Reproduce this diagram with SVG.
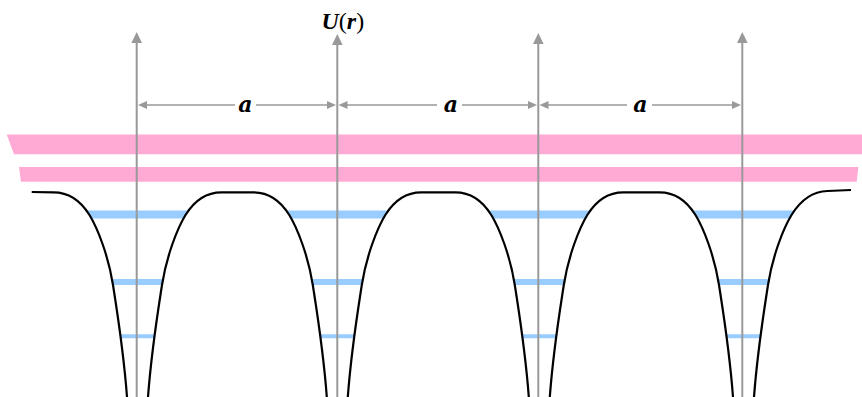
<svg xmlns="http://www.w3.org/2000/svg" width="862" height="397" viewBox="0 0 862 397">
<style>
.pink{fill:#ffaad4}
.blue{fill:#99ccff}
.axis{stroke:#999999;stroke-width:2;fill:none}
.dim{stroke:#999999;stroke-width:1.6;fill:none}
.curve{stroke:#000;stroke-width:2.2;fill:none;stroke-linejoin:round}
.lab{font-family:"DejaVu Serif",serif;font-weight:bold;font-style:italic;font-size:22px;fill:#000}
.ur{font-family:"Liberation Serif",serif;font-size:24px;fill:#000}
</style>
<defs>
<marker id="ah" markerUnits="userSpaceOnUse" markerWidth="12" markerHeight="11" refX="2" refY="5.35" orient="auto"><path d="M0,0 L11,5.35 L0,10.7 z" fill="#999999"/></marker>
<marker id="dh" markerUnits="userSpaceOnUse" markerWidth="10" markerHeight="9" refX="1.5" refY="4" orient="auto-start-reverse"><path d="M0,0 L9,4 L0,8 z" fill="#999999"/></marker>
</defs>
<rect width="862" height="397" fill="#fff"/>
<g id="bands-pink">
<polygon class="pink" points="6.7,134.5 862,134.5 862,154.3 14,154.3"/>
<polygon class="pink" points="19,167 858.3,167 856.7,181.7 21,181.7"/>
</g>
<g id="levels-blue">
<polygon class="blue" points="86.5,210.5 188.5,210.5 183.5,218.5 91.5,218.5"/>
<polygon class="blue" points="111.9,279 163.1,279 162,285 113,285"/>
<polygon class="blue" points="120.3,334.3 154.7,334.3 154.1,338.3 120.9,338.3"/>
<polygon class="blue" points="286.3,210.5 388.3,210.5 383.3,218.5 291.3,218.5"/>
<polygon class="blue" points="311.7,279 362.9,279 361.8,285 312.8,285"/>
<polygon class="blue" points="320.1,334.3 354.5,334.3 353.9,338.3 320.7,338.3"/>
<polygon class="blue" points="488.3,210.5 590.3,210.5 585.3,218.5 493.3,218.5"/>
<polygon class="blue" points="513.7,279 564.9,279 563.8,285 514.8,285"/>
<polygon class="blue" points="522.1,334.3 556.5,334.3 555.9,338.3 522.7,338.3"/>
<polygon class="blue" points="692.5,210.5 794.5,210.5 789.5,218.5 697.5,218.5"/>
<polygon class="blue" points="717.9,279 769.1,279 768,285 719,285"/>
<polygon class="blue" points="726.3,334.3 760.7,334.3 760.1,338.3 726.9,338.3"/>
</g>
<g id="axes">
<line class="axis" x1="136.7" y1="400" x2="136.7" y2="41" marker-end="url(#ah)"/>
<line class="axis" x1="337.3" y1="400" x2="337.3" y2="43" marker-end="url(#ah)"/>
<line class="axis" x1="538.3" y1="400" x2="538.3" y2="42" marker-end="url(#ah)"/>
<line class="axis" x1="742.3" y1="400" x2="742.3" y2="41" marker-end="url(#ah)"/>
</g>
<g id="potential">
<path class="curve" d="M 31.7 192 L 53.5 192.3 C 69.5 192.3, 81.5 202, 89.5 215 C 97.5 228, 108.5 256, 113 285 C 117 311, 123.5 350, 127 397 L 128 410 L 147 410 L 148 397 C 151.5 350, 158 311, 162 285 C 166.5 256, 177.5 228, 185.5 215 C 193.5 202, 205.5 192.3, 221.5 192.3 L 253.3 192.3 C 269.3 192.3, 281.3 202, 289.3 215 C 297.3 228, 308.3 256, 312.8 285 C 316.8 311, 323.3 350, 326.8 397 L 327.8 410 L 346.8 410 L 347.8 397 C 351.3 350, 357.8 311, 361.8 285 C 366.3 256, 377.3 228, 385.3 215 C 393.3 202, 405.3 192.3, 421.3 192.3 L 455.3 192.3 C 471.3 192.3, 483.3 202, 491.3 215 C 499.3 228, 510.3 256, 514.8 285 C 518.8 311, 525.3 350, 528.8 397 L 529.8 410 L 548.8 410 L 549.8 397 C 553.3 350, 559.8 311, 563.8 285 C 568.3 256, 579.3 228, 587.3 215 C 595.3 202, 607.3 192.3, 623.3 192.3 L 659.5 192.3 C 675.5 192.3, 687.5 202, 695.5 215 C 703.5 228, 714.5 256, 719 285 C 723 311, 729.5 350, 733 397 L 734 410 L 753 410 L 754 397 C 757.5 350, 764 311, 768 285 C 772.5 256, 783.5 228, 791.5 215 C 799.5 202, 811.5 191.5, 827.5 191 L 851 190"/>
</g>
<g id="dimensions">
<line class="dim" x1="145.5" y1="105" x2="235" y2="105" marker-start="url(#dh)"/>
<line class="dim" x1="256" y1="105" x2="328.5" y2="105" marker-end="url(#dh)"/>
<line class="dim" x1="346" y1="105" x2="437" y2="105" marker-start="url(#dh)"/>
<line class="dim" x1="462" y1="105" x2="529.5" y2="105" marker-end="url(#dh)"/>
<line class="dim" x1="547" y1="105" x2="627" y2="105" marker-start="url(#dh)"/>
<line class="dim" x1="652" y1="105" x2="733.5" y2="105" marker-end="url(#dh)"/>
</g>
<g id="labels">
<text class="lab" x="245.5" y="111.7" text-anchor="middle">a</text>
<text class="lab" x="451" y="111.7" text-anchor="middle">a</text>
<text class="lab" x="640.5" y="111.7" text-anchor="middle">a</text>
<text class="ur" x="321.5" y="29"><tspan font-weight="bold" font-style="italic">U</tspan>(<tspan font-weight="bold" font-style="italic">r</tspan>)</text>
</g>
</svg>
